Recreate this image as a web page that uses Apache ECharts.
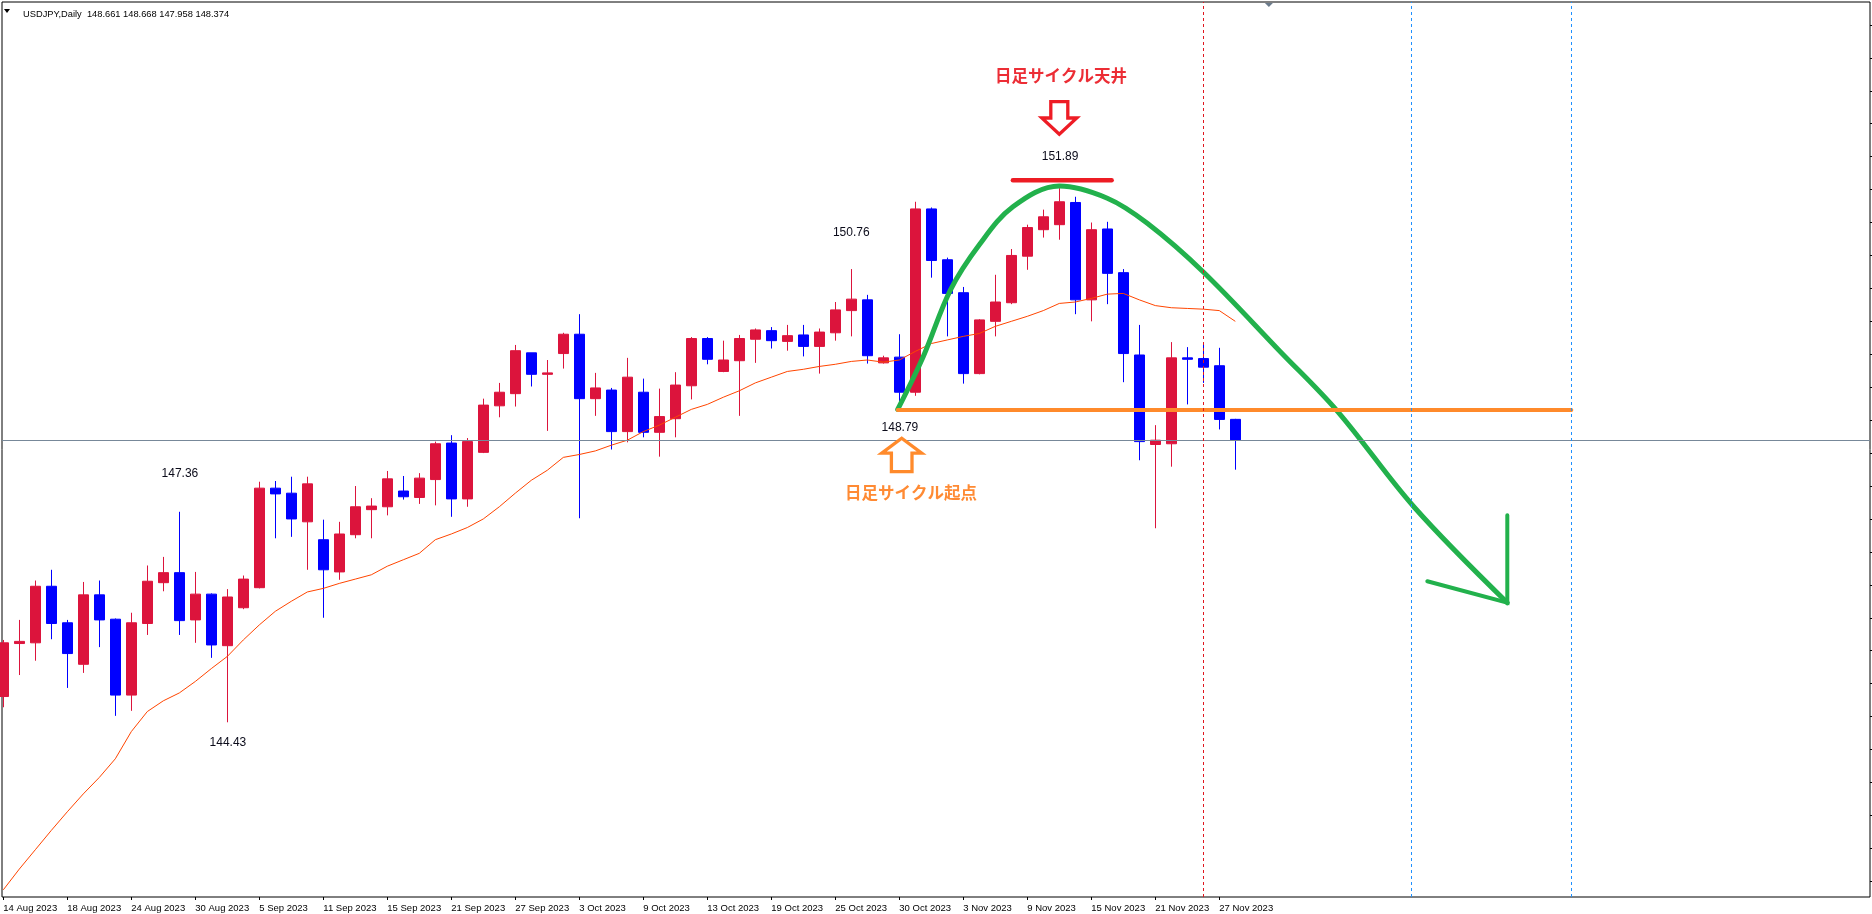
<!DOCTYPE html>
<html><head><meta charset="utf-8">
<script src="https://cdn.jsdelivr.net/npm/echarts@6/dist/echarts.min.js"></script>
<style>html,body{margin:0;padding:0;background:#fff}#c{width:1872px;height:914px}</style>
</head><body><div id="c"></div>
<script>
const dates = ['14 Aug 2023','15 Aug 2023','16 Aug 2023','17 Aug 2023','18 Aug 2023','21 Aug 2023','22 Aug 2023','23 Aug 2023','24 Aug 2023','25 Aug 2023',
'28 Aug 2023','29 Aug 2023','30 Aug 2023','31 Aug 2023','1 Sep 2023','4 Sep 2023','5 Sep 2023','6 Sep 2023','7 Sep 2023','8 Sep 2023',
'11 Sep 2023','12 Sep 2023','13 Sep 2023','14 Sep 2023','15 Sep 2023','18 Sep 2023','19 Sep 2023','20 Sep 2023','21 Sep 2023','22 Sep 2023',
'25 Sep 2023','26 Sep 2023','27 Sep 2023','28 Sep 2023','29 Sep 2023','2 Oct 2023','3 Oct 2023','4 Oct 2023','5 Oct 2023','6 Oct 2023',
'9 Oct 2023','10 Oct 2023','11 Oct 2023','12 Oct 2023','13 Oct 2023','16 Oct 2023','17 Oct 2023','18 Oct 2023','19 Oct 2023','20 Oct 2023',
'23 Oct 2023','24 Oct 2023','25 Oct 2023','26 Oct 2023','27 Oct 2023','29 Oct 2023','30 Oct 2023','31 Oct 2023','1 Nov 2023','2 Nov 2023',
'3 Nov 2023','6 Nov 2023','7 Nov 2023','8 Nov 2023','9 Nov 2023','10 Nov 2023','13 Nov 2023','14 Nov 2023','15 Nov 2023','16 Nov 2023',
'17 Nov 2023','20 Nov 2023','21 Nov 2023','22 Nov 2023','23 Nov 2023','24 Nov 2023','27 Nov 2023','28 Nov 2023'];

const opens  = [144.79,145.53,145.54,146.33,145.82,145.24,146.21,145.87,144.81,145.81,146.38,146.52,145.86,146.22,145.50,146.03,146.31,147.70,147.63,147.23,
146.98,146.53,147.05,147.40,147.44,147.66,147.57,147.82,148.33,147.55,148.20,148.85,149.02,149.59,149.29,149.58,149.85,148.95,149.07,148.49,
149.04,148.48,148.67,149.13,149.79,149.33,149.48,149.78,149.90,149.75,149.84,149.68,149.87,150.18,150.33,149.45,149.53,149.04,151.60,150.89,
150.43,149.30,150.03,150.29,150.94,151.31,151.38,151.69,150.33,151.32,150.71,149.56,148.31,148.32,149.52,149.51,149.41,148.661];
const highs  = [145.58,145.86,146.41,146.56,145.86,146.39,146.41,145.88,145.96,146.62,146.74,147.37,146.53,146.23,146.29,146.48,147.79,147.80,147.86,147.86,
147.26,147.23,147.73,147.56,147.94,147.87,147.91,148.35,148.44,148.40,148.95,149.17,149.70,149.59,149.49,149.87,150.13,149.31,149.10,149.52,
149.23,149.09,149.32,149.81,149.81,149.76,149.84,149.93,149.95,149.98,149.98,149.93,150.30,150.76,150.40,149.55,149.85,151.70,151.62,150.92,
150.51,150.06,150.68,151.04,151.38,151.59,151.89,151.77,151.41,151.42,150.76,149.98,148.58,149.74,149.67,149.70,149.66,148.668];
const lows   = [144.64,145.09,145.29,145.59,144.91,145.12,145.48,144.52,144.59,145.65,146.26,145.65,145.54,145.33,144.43,146.01,146.30,147.00,147.02,146.56,
145.89,146.42,147.00,147.00,147.32,147.54,147.48,147.46,147.30,147.44,148.19,148.69,148.84,149.12,148.50,149.37,147.28,148.71,148.24,148.34,
148.41,148.14,148.41,148.94,149.43,149.32,148.71,149.45,149.65,149.62,149.54,149.30,149.76,149.82,149.44,149.44,148.79,148.99,150.64,149.82,
149.16,149.29,149.82,150.27,150.75,151.20,151.17,150.13,150.03,150.27,149.18,148.09,147.14,148.00,148.87,149.17,148.52,147.958];
const closes = [145.54,145.56,146.33,145.81,145.39,146.21,145.86,144.81,145.82,146.40,146.52,145.85,146.22,145.51,146.18,146.43,147.70,147.62,147.27,147.76,
146.56,147.06,147.44,147.45,147.83,147.58,147.84,148.32,147.55,148.35,148.86,149.04,149.62,149.29,149.31,149.85,148.95,149.10,148.49,149.25,
148.48,148.70,149.14,149.79,149.50,149.49,149.79,149.91,149.76,149.83,149.68,149.88,150.19,150.34,149.55,149.52,149.04,151.60,150.88,150.42,
149.30,150.05,150.30,150.95,151.34,151.49,151.70,150.33,151.31,150.70,149.58,148.35,148.37,149.52,149.50,149.39,148.66,148.374];
const maValues = [142.09,142.38,142.65,142.92,143.18,143.43,143.66,143.92,144.30,144.58,144.73,144.84,145.00,145.18,145.35,145.58,145.79,145.98,146.12,146.25,
146.30,146.37,146.43,146.49,146.61,146.70,146.79,146.98,147.06,147.15,147.27,147.44,147.63,147.81,147.95,148.13,148.17,148.22,148.30,148.37,
148.49,148.58,148.69,148.80,148.87,148.97,149.06,149.17,149.25,149.33,149.36,149.40,149.43,149.47,149.49,149.46,149.49,149.61,149.72,149.77,
149.82,149.86,149.96,150.03,150.10,150.18,150.28,150.30,150.35,150.41,150.42,150.33,150.25,150.22,150.21,150.20,150.18,150.03];

const xLabelIdx = [0,4,8,12,16,20,24,28,32,36,40,44,48,52,56,60,64,68,72,76];
const yTickValues = [142.21,142.67,143.13,143.59,144.05,144.51,144.97,145.43,145.89,146.35,146.81,147.27,147.73,148.19,148.65,149.11,149.57,150.03,150.49,150.95,151.41,151.87,152.33,152.79,153.25,153.71,154.17];

const bidPrice = 148.374;
const separatorBar = 75;
const futureBars = [88, 98];

// annotation geometry in chart (bar index, price) coordinates
const cycleCurve = [[55.9,148.80],[57.5,149.54],[59.2,150.47],[61.0,151.10],[63.1,151.63],[66.0,151.92],[69.0,151.75],[71.5,151.40],[75.0,150.72],[79.8,149.61],[83.4,148.77],[88.2,147.43],[94.0,146.10]];
const arrowHead = [[89.0,146.40],[94.0,146.10],[94.0,147.32]];
const baseLine = [[55.9,148.79],[98.0,148.79]];
const topLine = [[63.1,152.00],[69.27,152.00]];
const priceNotes = [
  {text:'151.89', at:[66.05,152.33]},
  {text:'150.76', at:[53.0,151.27]},
  {text:'148.79', at:[56.04,148.54]},
  {text:'147.36', at:[11.04,147.90]},
  {text:'144.43', at:[14.04,144.14]}
];
const topTitle = {text:'日足サイクル天井', at:[66.1,153.46]};
const baseTitle = {text:'日足サイクル起点', at:[56.73,147.63]};
const downArrow = {x:66.0, from:153.12, to:152.62};
const upArrow = {x:56.15, from:147.91, to:148.42};

const XMIN = -0.08125, XMAX = 116.66875, YMIN = 141.99, YMAX = 154.49;

const candleData = opens.map((o,i)=>[i,o,closes[i],lows[i],highs[i]]);
const maData = maValues.map((v,i)=>[i,v]);
const last = opens.length-1;
const headerText = 'USDJPY,Daily  ' + [opens[last],highs[last],lows[last],closes[last]].map(v=>v.toFixed(3)).join(' ');
const uiFont = '"Liberation Sans", Arial, sans-serif';

const chart = echarts.init(document.getElementById('c'), null, {renderer:'canvas'});
const option = {
  animation:false,
  backgroundColor:'#ffffff',
  grid:{left:2,right:2,top:2,bottom:17,show:true,borderColor:'#000',borderWidth:1,backgroundColor:'#fff'},
  xAxis:{type:'value',min:XMIN,max:XMAX,
    axisLine:{show:false,onZero:false},splitLine:{show:false},
    axisTick:{show:true,customValues:xLabelIdx,length:3,lineStyle:{color:'#000'}},
    axisLabel:{show:true,customValues:xLabelIdx,formatter:v=>dates[v]||'',align:'left',margin:6,
      color:'#000',fontSize:9.5,fontFamily:uiFont}},
  yAxis:{type:'value',position:'right',min:YMIN,max:YMAX,
    axisLine:{show:false,onZero:false},splitLine:{show:false},axisLabel:{show:false},
    axisTick:{show:true,customValues:yTickValues,length:3,inside:false,lineStyle:{color:'#000'}}},
  title:{text:headerText,left:18,top:5,textStyle:{fontSize:9.3,fontWeight:'normal',color:'#000',fontFamily:uiFont}},
  series:[
    {type:'line',data:[],z:1,silent:true,
      markLine:{silent:true,symbol:'none',label:{show:false},animation:false,
        data:[
          {yAxis:bidPrice,lineStyle:{color:'#778899',width:1,type:'solid'}},
          {xAxis:separatorBar,lineStyle:{color:'#E0161E',width:1,type:[3,3]}},
          {xAxis:futureBars[0],lineStyle:{color:'#1E90FF',width:1,type:[3,3]}},
          {xAxis:futureBars[1],lineStyle:{color:'#1E90FF',width:1,type:[3,3]}}
        ]}},
    {type:'candlestick',data:candleData,encode:{x:0,y:[1,2,3,4]},barWidth:10,z:2,
      itemStyle:{color:'#DC143C',color0:'#0000FF',borderColor:'#DC143C',borderColor0:'#0000FF',borderWidth:1}},
    {type:'line',data:maData,symbol:'none',z:3,lineStyle:{color:'#FF4500',width:1}},
    {type:'line',data:cycleCurve,symbol:'none',smooth:0.35,z:4,lineStyle:{color:'#22B14C',width:5,cap:'round'}},
    {type:'line',data:arrowHead,symbol:'none',z:4,lineStyle:{color:'#22B14C',width:4,cap:'round',join:'miter'}},
    {type:'line',data:baseLine,symbol:'none',z:4,lineStyle:{color:'#FF8A2B',width:4,cap:'round'}},
    {type:'line',data:topLine,symbol:'none',z:4,lineStyle:{color:'#ED1C24',width:4.5,cap:'round'}}
  ]
};
chart.setOption(option);

function px(pt){return chart.convertToPixel({xAxisIndex:0,yAxisIndex:0},pt);}
const g = [];
priceNotes.forEach(n=>{
  const p = px(n.at);
  g.push({type:'text',x:p[0],y:p[1],z:10,style:{text:n.text,fill:'#0b0b1a',font:'12px "Liberation Sans", Arial, sans-serif',align:'center',verticalAlign:'middle'}});
});
[[topTitle,'#EC2D35'],[baseTitle,'#FF8A33']].forEach(([t,c])=>{
  const p = px(t.at);
  g.push({type:'text',x:p[0],y:p[1],z:10,style:{text:t.text,fill:c,font:'bold 16.5px "Noto Sans CJK JP", sans-serif',align:'center',verticalAlign:'middle'}});
});
(function(){
  const a = px([downArrow.x,downArrow.from]), b = px([downArrow.x,downArrow.to]);
  const cx=a[0], y0=a[1]+1.6, y1=b[1]-1.6, yh=y0+(y1-y0)*0.5;
  g.push({type:'polygon',z:10,shape:{points:[[cx-8.5,y0],[cx+8.5,y0],[cx+8.5,yh],[cx+17.5,yh],[cx,y1],[cx-17.5,yh],[cx-8.5,yh]]},
    style:{fill:'#fff',stroke:'#EE1C25',lineWidth:3.3,lineJoin:'miter'}});
  const c = px([upArrow.x,upArrow.from]), d = px([upArrow.x,upArrow.to]);
  const ux=c[0], yb=c[1]-1.6, yt=d[1]+1.6, ym=yt+(yb-yt)*0.45;
  g.push({type:'polygon',z:10,shape:{points:[[ux-10.3,yb],[ux+10.3,yb],[ux+10.3,ym],[ux+20,ym],[ux,yt],[ux-20,ym],[ux-10.3,ym]]},
    style:{fill:'#fff',stroke:'#FF8A2B',lineWidth:3.3,lineJoin:'miter'}});
  const s = px([79.1,YMAX]);
  g.push({type:'polygon',z:10,shape:{points:[[s[0]-4,s[1]+1],[s[0]+4,s[1]+1],[s[0],s[1]+5]]},style:{fill:'#6b7b8c'}});
  g.push({type:'polygon',z:10,shape:{points:[[4,9],[10,9],[7,13]]},style:{fill:'#000'}});
})();
chart.setOption({graphic:g});
</script></body></html>
